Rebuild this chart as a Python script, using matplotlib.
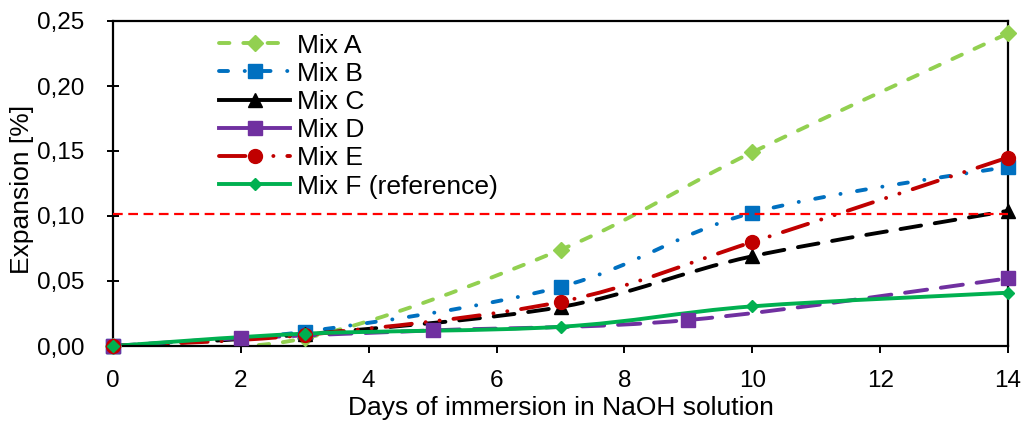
import matplotlib
matplotlib.use("Agg")
import matplotlib.pyplot as plt
import numpy as np
from matplotlib.path import Path
from matplotlib.patches import PathPatch
from matplotlib.lines import Line2D
from matplotlib.ticker import FuncFormatter, MultipleLocator

plt.rcParams["font.family"] = ["Liberation Sans", "DejaVu Sans"]
plt.rcParams["lines.scale_dashes"] = False

# days / expansion [%] for each mix
days_a = [0, 3, 7, 10, 14]
mix_a = [0.0, 0.006, 0.074, 0.149, 0.2405]
days_b = [0, 3, 7, 10, 14]
mix_b = [0.0, 0.011, 0.0455, 0.1025, 0.138]
days_c = [0, 3, 7, 10, 14]
mix_c = [0.0, 0.009, 0.030, 0.069, 0.104]
days_d = [0, 2, 5, 9, 14]
mix_d = [0.0, 0.006, 0.012, 0.020, 0.052]
days_e = [0, 3, 7, 10, 14]
mix_e = [0.0, 0.0085, 0.034, 0.080, 0.145]
days_f = [0, 3, 7, 10, 14]
mix_f = [0.0, 0.0095, 0.0148, 0.0305, 0.041]
limit = 0.1015

labels = ["Mix A", "Mix B", "Mix C", "Mix D", "Mix E", "Mix F (reference)"]
colors = ["#92D050", "#0070C0", "#000000", "#7030A0", "#C00000", "#00B050"]
markers = ["D", "s", "^", "s", "o", "D"]
msizes = [8, 9.5, 9.5, 9.5, 10, 6]
dashes = [
    (0, (7.5, 10)),
    (0, (6.5, 12, 0.1, 12)),
    (0, (15, 10)),
    (0, (16, 10)),
    (0, (19, 10, 0.1, 10, 0.1, 10)),
    "solid",
]
# Excel draws a shorter sample in the legend
legend_dashes = [dashes[0], dashes[1], "solid", "solid", dashes[4], "solid"]
series = [
    (days_a, mix_a), (days_b, mix_b), (days_c, mix_c),
    (days_d, mix_d), (days_e, mix_e), (days_f, mix_f),
]
LW = 2.8


def smooth_path(xs, ys):
    # excel-like smoothed line as cubic bezier segments
    pts = np.column_stack([xs, ys]).astype(float)
    n = len(pts)
    verts = [pts[0]]
    codes = [Path.MOVETO]
    for i in range(n - 1):
        p0 = pts[i - 1] if i > 0 else pts[i]
        p1 = pts[i]
        p2 = pts[i + 1]
        p3 = pts[i + 2] if i + 2 < n else pts[i + 1]
        verts += [p1 + (p2 - p0) / 6, p2 - (p3 - p1) / 6, p2]
        codes += [Path.CURVE4] * 3
    return Path(verts, codes)


fig = plt.figure(figsize=(10.22, 4.21), dpi=100)
ax = fig.add_axes([113 / 1022, 1 - 346 / 421, 895 / 1022, 325 / 421])

handles = []
for (xs, ys), lab, c, m, ms, ls, lls in zip(series, labels, colors, markers,
                                            msizes, dashes, legend_dashes):
    patch = PathPatch(smooth_path(xs, ys), fill=False, edgecolor=c, lw=LW,
                      linestyle=ls, capstyle="round", zorder=2)
    ax.add_patch(patch)
    ax.plot(xs, ys, linestyle="none", marker=m, ms=ms, color=c, mec=c,
            zorder=3, clip_on=False)
    h = Line2D([], [], color=c, lw=LW, linestyle=lls, marker=m, ms=ms,
               dash_capstyle="round")
    handles.append(h)

ax.axhline(limit, color="#FF0000", lw=1.6, linestyle=(0, (7, 4)), zorder=4)

ax.set_xlim(0, 14)
ax.set_ylim(0, 0.25)
ax.xaxis.set_major_locator(MultipleLocator(2))
ax.yaxis.set_major_locator(MultipleLocator(0.05))
ax.yaxis.set_major_formatter(FuncFormatter(lambda v, p: f"{v:.2f}".replace(".", ",")))

for s in ax.spines.values():
    s.set_linewidth(1.6)
ax.tick_params(axis="y", direction="inout", length=9, width=1.4, labelsize=17.5, pad=16)
ax.tick_params(axis="x", direction="out", length=5, width=1.4, labelsize=17.5, pad=12)

ax.set_xlabel("Days of immersion in NaOH solution", fontsize=19, labelpad=3)
ax.set_ylabel("Expansion [%]", fontsize=19)
ax.yaxis.set_label_coords(-0.088, 0.483)

ax.legend(handles=handles, labels=labels, loc="upper left", frameon=False,
          bbox_to_anchor=(0.1066, 0.994), fontsize=19, handlelength=2.7,
          handletextpad=0.27, labelspacing=0.16, borderaxespad=0)

fig.savefig("out.png", dpi=100)
